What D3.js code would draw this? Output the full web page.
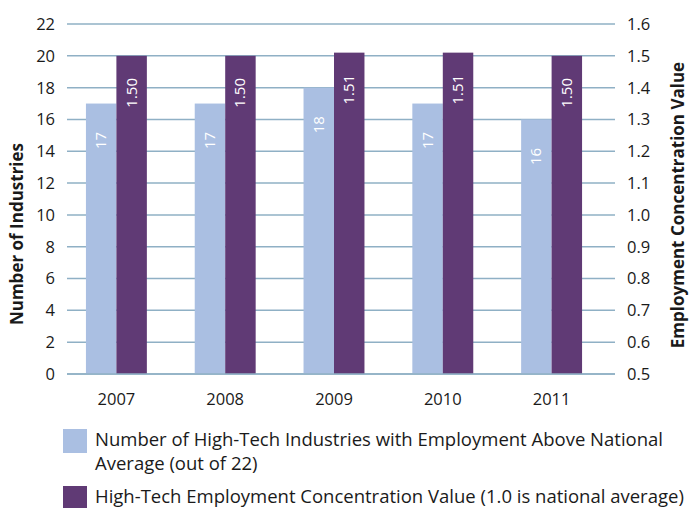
<!DOCTYPE html>
<html><head><meta charset="utf-8">
<script src="https://cdn.jsdelivr.net/npm/d3@7"></script>
<style>body{margin:0;background:#fff;} svg{display:block;} text{font-family:"Open Sans",sans-serif;}</style>
</head><body>
<svg id="chart" width="690" height="508"></svg>
<script>
const years = ["2007","2008","2009","2010","2011"];
const industries = [17,17,18,17,16];
const concentration = [1.50,1.50,1.51,1.51,1.50];
const leftTicks = [0,2,4,6,8,10,12,14,16,18,20,22];
const rightTicks = [0.5,0.6,0.7,0.8,0.9,1.0,1.1,1.2,1.3,1.4,1.5,1.6];
const legendLabels = [["Number of High-Tech Industries with Employment Above National","Average (out of 22)"],["High-Tech Employment Concentration Value (1.0 is national average)"]];

const svg = d3.select("#chart");
const light = "#aabfe2", dark = "#603a75", grid = "#8fb0c5", textc = "#1a1a1a";
const x0 = 67, x1 = 615, yTop = 24, yBot = 374;
const yL = d3.scaleLinear().domain([0,22]).range([yBot,yTop]);
const yR = d3.scaleLinear().domain([0.5,1.6]).range([yBot,yTop]);
const x = d3.scaleBand().domain(years).range([62,606]).paddingInner(0.44).paddingOuter(0.22);
const xs = d3.scaleBand().domain([0,1]).range([0,x.bandwidth()]);

// gridlines
svg.append("g").selectAll("line").data(leftTicks).join("line")
  .attr("x1",x0).attr("x2",x1).attr("y1",d=>yL(d)).attr("y2",d=>yL(d))
  .attr("stroke",grid).attr("stroke-width",1.5);

// axis tick labels
svg.append("g").selectAll("text").data(leftTicks).join("text")
  .attr("x",55).attr("y",d=>yL(d)).attr("dy","0.36em").attr("text-anchor","end")
  .attr("font-size",16.5).attr("fill",textc).text(d=>d);
svg.append("g").selectAll("text").data(rightTicks).join("text")
  .attr("x",627).attr("y",d=>yR(d)).attr("dy","0.36em").attr("text-anchor","start")
  .attr("font-size",16.5).attr("fill",textc).text(d=>d3.format(".1f")(d));

// bars
const g = svg.append("g");
g.selectAll("rect.l").data(years).join("rect").attr("class","l")
  .attr("x",d=>x(d)+xs(0)).attr("width",xs.bandwidth())
  .attr("y",(d,i)=>yL(industries[i])).attr("height",(d,i)=>yBot-yL(industries[i]))
  .attr("fill",light);
g.selectAll("rect.d").data(years).join("rect").attr("class","d")
  .attr("x",d=>x(d)+xs(1)).attr("width",xs.bandwidth())
  .attr("y",(d,i)=>yR(concentration[i])).attr("height",(d,i)=>yBot-yR(concentration[i]))
  .attr("fill",dark);
// bar labels
g.selectAll("text.l").data(years).join("text")
  .attr("transform",(d,i)=>`translate(${x(d)+xs(0)+xs.bandwidth()/2+5},${yL(industries[i])+37}) rotate(-90)`)
  .attr("text-anchor","middle").attr("font-size",15).attr("fill","#fff")
  .text((d,i)=>industries[i]);
g.selectAll("text.d").data(years).join("text")
  .attr("transform",(d,i)=>`translate(${x(d)+xs(1)+xs.bandwidth()/2+5},${yR(concentration[i])+37}) rotate(-90)`)
  .attr("text-anchor","middle").attr("font-size",15).attr("fill","#fff")
  .text((d,i)=>d3.format(".2f")(concentration[i]));
// baseline
svg.append("line").attr("x1",x0).attr("x2",x1).attr("y1",yBot).attr("y2",yBot).attr("stroke",grid).attr("stroke-width",1.5);

// x labels
svg.append("g").selectAll("text").data(years).join("text")
  .attr("x",d=>x(d)+x.bandwidth()/2).attr("y",405).attr("text-anchor","middle")
  .attr("font-size",16.5).attr("fill",textc).text(d=>d);

// axis titles
svg.append("text").attr("transform","translate(23,234) rotate(-90)").attr("text-anchor","middle")
  .attr("font-size",17).attr("font-weight","bold").attr("fill",textc).text("Number of Industries");
svg.append("text").attr("transform","translate(684,205) rotate(-90)").attr("text-anchor","middle")
  .attr("font-size",17).attr("font-weight","bold").attr("fill",textc).text("Employment Concentration Value");

// legend
const legY = [429,486];
[light,dark].forEach((c,i)=>{
  svg.append("rect").attr("x",63).attr("y",legY[i]).attr("width",24).attr("height",24).attr("fill",c);
  legendLabels[i].forEach((t,j)=>{
    svg.append("text").attr("x",95).attr("y",legY[i]+17+j*24).attr("font-size",18.5).attr("fill",textc).text(t);
  });
});
</script>
</body></html>
